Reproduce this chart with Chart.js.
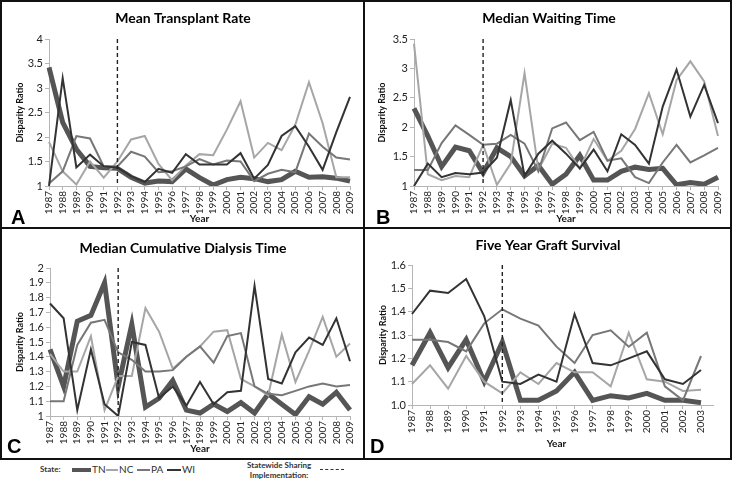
<!DOCTYPE html>
<html>
<head>
<meta charset="utf-8">
<script src="https://cdn.jsdelivr.net/npm/chart.js@4.4.1/dist/chart.umd.min.js"></script>
<style>
  body { margin: 0; background: #fff; width: 735px; height: 484px; position: relative; overflow: hidden; font-family: Lato, "Liberation Sans", sans-serif; }
  canvas { position: absolute; }
  .ln { position: absolute; background: #111; }
  .lg { position: absolute; font-size: 10px; color: #333; white-space: nowrap; }
  .sw { position: absolute; }
</style>
</head>
<body>
<canvas id="chartA" style="left:0;top:0"></canvas>
<canvas id="chartB" style="left:365px;top:0"></canvas>
<canvas id="chartC" style="left:0;top:229px"></canvas>
<canvas id="chartD" style="left:365px;top:229px"></canvas>

<div class="ln" style="left:0;top:0;width:732px;height:2px"></div>
<div class="ln" style="left:0;top:458px;width:732px;height:2px"></div>
<div class="ln" style="left:0;top:0;width:2px;height:460px"></div>
<div class="ln" style="left:730px;top:0;width:2px;height:460px"></div>
<div class="ln" style="left:363px;top:0;width:2px;height:460px"></div>
<div class="ln" style="left:0;top:227px;width:732px;height:2px"></div>

<!-- legend -->
<div class="lg" style="left:40px;top:464px;font-weight:bold;font-size:8px">State:</div>
<div class="sw" style="left:72px;top:468px;width:19px;height:4px;background:#555"></div>
<div class="lg" style="left:92px;top:463px">TN</div>
<div class="sw" style="left:106px;top:469px;width:12px;height:2px;background:#a6a6a6"></div>
<div class="lg" style="left:119px;top:463px">NC</div>
<div class="sw" style="left:137px;top:469px;width:13px;height:2px;background:#777"></div>
<div class="lg" style="left:151px;top:463px">PA</div>
<div class="sw" style="left:167px;top:469px;width:14px;height:2px;background:#333"></div>
<div class="lg" style="left:182px;top:463px">WI</div>
<div class="lg" style="left:247px;top:460px;font-weight:bold;font-size:8px;text-align:center;line-height:10px;color:#333">Statewide Sharing<br>Implementation:</div>
<div class="sw" style="left:320px;top:469px;width:24px;height:0;border-top:1.5px dashed #333"></div>

<script>
const years = ['1987','1988','1989','1990','1991','1992','1993','1994','1995','1996','1997','1998',
  '1999','2000','2001','2002','2003','2004','2005','2006','2007','2008','2009'];
const graftYears = ['1987','1988','1989','1990','1991','1992','1993','1994','1995','1996','1997','1998',
  '1999','2000','2001','2002','2003'];
const sharingYear = '1992';
const states = ['TN', 'NC', 'PA', 'WI'];

// A - mean transplant rate
const rateTN = [3.42, 2.3, 1.75, 1.4, 1.37, 1.36, 1.18, 1.06, 1.1, 1.09, 1.35, 1.17, 1.02, 1.13, 1.18, 1.15, 1.09, 1.13, 1.3, 1.18, 1.19, 1.16, 1.1];
const rateNC = [1.9, 1.3, 1.03, 1.5, 1.17, 1.5, 1.95, 2.02, 1.45, 1.12, 1.42, 1.65, 1.63, 2.15, 2.73, 1.58, 1.88, 1.73, 2.25, 3.12, 2.28, 1.18, 1.18];
const ratePA = [1.05, 1.3, 2.02, 1.97, 1.4, 1.4, 1.7, 1.6, 1.28, 1.3, 1.4, 1.55, 1.44, 1.52, 1.5, 1.1, 1.25, 1.33, 1.28, 2.07, 1.8, 1.58, 1.54];
const rateWI = [1.0, 3.2, 1.38, 1.64, 1.4, 1.38, 1.2, 1.08, 1.35, 1.27, 1.65, 1.44, 1.44, 1.44, 1.67, 1.15, 1.43, 2.02, 2.22, 1.8, 1.33, 2.1, 2.82];

// B - median waiting time
const waitTN = [2.32, 1.85, 1.33, 1.66, 1.6, 1.22, 1.65, 1.5, 1.17, 1.35, 1.03, 1.2, 1.52, 1.1, 1.1, 1.25, 1.32, 1.28, 1.3, 1.02, 1.06, 1.03, 1.15];
const waitNC = [3.42, 1.2, 1.1, 1.17, 1.15, 1.7, 1.02, 1.38, 2.92, 1.28, 1.72, 1.65, 1.3, 1.8, 1.43, 1.6, 1.97, 2.58, 1.88, 2.8, 3.12, 2.78, 1.85];
const waitPA = [1.27, 1.27, 1.73, 2.03, 1.87, 1.7, 1.72, 1.87, 1.72, 1.25, 1.98, 2.08, 1.78, 1.92, 1.43, 1.47, 1.15, 1.05, 1.4, 1.7, 1.4, 1.52, 1.65];
const waitWI = [1.0, 1.38, 1.15, 1.22, 1.2, 1.23, 1.48, 2.46, 1.17, 1.55, 1.77, 1.55, 1.3, 1.62, 1.25, 1.88, 1.7, 1.38, 2.35, 2.98, 2.18, 2.72, 2.07];

// C - median cumulative dialysis time
const dialTN = [1.45, 1.2, 1.64, 1.68, 1.9, 1.2, 1.62, 1.06, 1.12, 1.24, 1.04, 1.02, 1.08, 1.03, 1.09, 1.02, 1.15, 1.08, 1.01, 1.13, 1.08, 1.16, 1.04];
const dialNC = [1.42, 1.3, 1.3, 1.54, 1.04, 1.27, 1.27, 1.73, 1.57, 1.32, 1.4, 1.47, 1.57, 1.58, 1.25, 1.2, 1.14, 1.55, 1.23, 1.44, 1.67, 1.4, 1.49];
const dialPA = [1.1, 1.1, 1.48, 1.63, 1.65, 1.43, 1.38, 1.3, 1.3, 1.31, 1.4, 1.47, 1.36, 1.54, 1.56, 1.2, 1.15, 1.14, 1.17, 1.2, 1.22, 1.2, 1.21];
const dialWI = [1.76, 1.66, 1.04, 1.45, 1.08, 1.0, 1.5, 1.48, 1.12, 1.2, 1.07, 1.23, 1.08, 1.16, 1.17, 1.88, 1.25, 1.22, 1.43, 1.53, 1.48, 1.66, 1.37];

// D - five year graft survival
const graftTN = [1.17, 1.31, 1.16, 1.28, 1.1, 1.27, 1.02, 1.02, 1.06, 1.14, 1.02, 1.04, 1.03, 1.05, 1.02, 1.02, 1.01];
const graftNC = [1.09, 1.17, 1.07, 1.21, 1.1, 1.05, 1.14, 1.09, 1.18, 1.14, 1.14, 1.08, 1.31, 1.11, 1.1, 1.06, 1.065];
const graftPA = [1.28, 1.28, 1.27, 1.23, 1.35, 1.41, 1.37, 1.34, 1.25, 1.18, 1.3, 1.32, 1.25, 1.31, 1.08, 1.02, 1.21];
const graftWI = [1.39, 1.49, 1.48, 1.54, 1.38, 1.1, 1.09, 1.13, 1.1, 1.39, 1.18, 1.17, 1.2, 1.23, 1.11, 1.09, 1.15];

const lineColors = ['#555555', '#a6a6a6', '#777777', '#333333'];
const lineWidths = [5, 2, 2, 2];
const axisGray = '#b5b5b5';

// dashed sharing line, panel title and panel letter
const decor = {
  id: 'decor',
  afterDatasetsDraw(chart, args, opts) {
    const { ctx, chartArea, scales } = chart;
    const x = scales.x.getPixelForValue(scales.x.getLabels().indexOf(sharingYear));
    ctx.save();
    ctx.strokeStyle = '#222';
    ctx.lineWidth = 1.4;
    ctx.setLineDash([4, 3]);
    ctx.beginPath();
    ctx.moveTo(x, chartArea.top);
    ctx.lineTo(x, chartArea.bottom);
    ctx.stroke();
    ctx.setLineDash([]);
    if (opts.extend) {
      ctx.strokeStyle = axisGray;
      ctx.lineWidth = 1;
      ctx.beginPath();
      ctx.moveTo(chartArea.right, chartArea.bottom + 0.5);
      ctx.lineTo(chartArea.right + opts.extend, chartArea.bottom + 0.5);
      ctx.stroke();
    }
    ctx.fillStyle = '#000';
    ctx.textBaseline = 'middle';
    ctx.textAlign = 'center';
    ctx.font = 'bold 14px Lato';
    ctx.fillText(opts.title, opts.titleX, opts.titleY);
    ctx.textAlign = 'left';
    ctx.font = 'bold 20px "Liberation Sans"';
    ctx.fillText(opts.letter, opts.letterX, opts.letterY);
    ctx.restore();
  }
};

function makePanel(id, size, labels, series, yOpts, pad, xHeight, yWidth, deco) {
  const el = document.getElementById(id);
  el.width = size[0];
  el.height = size[1];
  return new Chart(el, {
    type: 'line',
    data: {
      labels: labels,
      datasets: series.map((d, i) => ({
        label: states[i],
        data: d,
        borderColor: lineColors[i],
        borderWidth: lineWidths[i],
        pointRadius: 0,
        tension: 0,
        fill: false,
        order: 4 - i
      }))
    },
    options: {
      responsive: false,
      animation: false,
      layout: { padding: pad },
      plugins: { legend: { display: false }, tooltip: { enabled: false }, decor: deco },
      scales: {
        x: {
          offset: false,
          afterFit: (s) => { s.height = xHeight; },
          grid: { drawOnChartArea: false, drawTicks: true, tickLength: 4, color: axisGray },
          border: { color: axisGray },
          ticks: { minRotation: 90, maxRotation: 90, autoSkip: false, padding: 1, color: '#222', font: { family: 'Lato', size: 10 } },
          title: { display: true, text: 'Year', color: '#111', padding: 0, font: { family: 'Lato', size: 10, weight: 'bold' } }
        },
        y: {
          min: yOpts.min,
          max: yOpts.max,
          afterFit: (s) => { s.width = yWidth; },
          grid: { drawOnChartArea: false, drawTicks: true, tickLength: 4, color: axisGray },
          border: { color: axisGray },
          ticks: {
            stepSize: yOpts.step,
            autoSkip: false,
            padding: 2,
            color: '#222',
            font: { family: 'Lato', size: 11 },
            callback: yOpts.fmt
          },
          title: { display: true, text: 'Disparity Ratio', color: '#111', padding: 0, font: { family: 'Lato', size: 9, weight: 'bold' } }
        }
      }
    },
    plugins: [decor]
  });
}

makePanel('chartA', [363, 227], years, [rateTN, rateNC, ratePA, rateWI],
  { min: 1, max: 4, step: 0.5 },
  { left: 15, top: 39, right: 10, bottom: 2 }, 39, 34,
  { title: 'Mean Transplant Rate', titleX: 183, titleY: 18, letter: 'A', letterX: 11, letterY: 218 });

makePanel('chartB', [366, 227], years, [waitTN, waitNC, waitPA, waitWI],
  { min: 1, max: 3.5, step: 0.5 },
  { left: 12, top: 39, right: 10, bottom: 2 }, 39, 37,
  { title: 'Median Waiting Time', titleX: 184, titleY: 18, letter: 'B', letterX: 11, letterY: 218 });

makePanel('chartC', [363, 229], years, [dialTN, dialNC, dialPA, dialWI],
  { min: 1, max: 2, step: 0.1 },
  { left: 15, top: 39, right: 9, bottom: 3 }, 39, 35,
  { title: 'Median Cumulative Dialysis Time', titleX: 183, titleY: 19, letter: 'C', letterX: 7, letterY: 218 });

makePanel('chartD', [365, 229], graftYears, [graftTN, graftNC, graftPA, graftWI],
  { min: 1, max: 1.6, step: 0.1, fmt: (v) => v.toFixed(1) },
  { left: 13, top: 36, right: 29, bottom: 8 }, 45, 34,
  { title: 'Five Year Graft Survival', titleX: 183, titleY: 16, letter: 'D', letterX: 5, letterY: 218, extend: 13 });
</script>
</body>
</html>
